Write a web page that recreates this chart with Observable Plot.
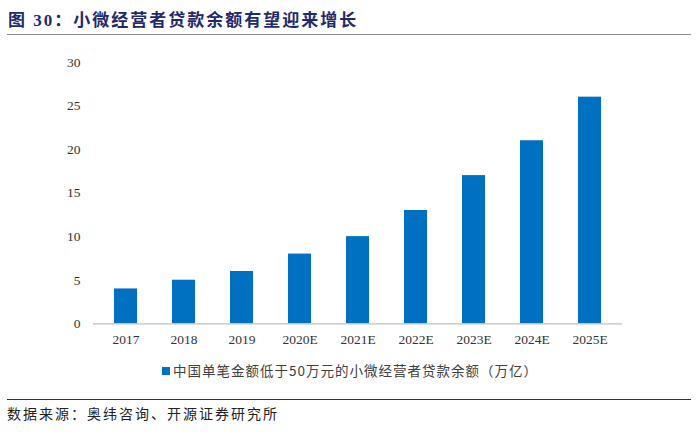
<!DOCTYPE html>
<html>
<head>
<meta charset="utf-8">
<script src="https://cdn.jsdelivr.net/npm/d3@7"></script>
<script src="https://cdn.jsdelivr.net/npm/@observablehq/plot@0.6"></script>
<style>
  html, body { margin: 0; padding: 0; background: #fff; }
  body { width: 700px; height: 440px; position: relative; overflow: hidden; }
  #title { position: absolute; left: 8px; top: 6px; font-family: "Liberation Serif", "Noto Sans CJK SC", serif; font-weight: bold; font-size: 17px; color: #1f2a6b; letter-spacing: 2px; white-space: nowrap; }
  #tline { position: absolute; left: 7px; top: 34px; width: 684px; height: 0; border-top: 1.5px solid #8c8c8c; }
  #chart { position: absolute; left: 0; top: 40px; }
  #legend { position: absolute; left: 0; width: 700px; top: 360px; height: 20px; text-align: center; font-family: "Noto Sans CJK SC", sans-serif; font-size: 13.5px; color: #404040; white-space: nowrap; letter-spacing: 1px; }
  #legend .sw { display: inline-block; width: 8px; height: 8px; background: #0070C0; margin-right: 3px; vertical-align: 1px; }
  #bline { position: absolute; left: 7px; top: 399px; width: 684px; height: 0; border-top: 1.2px solid #333; }
  #source { position: absolute; left: 7px; top: 403px; font-family: "Noto Sans CJK SC", sans-serif; font-size: 14px; color: #222; letter-spacing: 2px; white-space: nowrap; }
</style>
</head>
<body>
<div id="title">图 30：小微经营者贷款余额有望迎来增长</div>
<div id="tline"></div>
<div id="chart"></div>
<div id="legend"></div>
<div id="bline"></div>
<div id="source"></div>
<script>
const years = ["2017", "2018", "2019", "2020E", "2021E", "2022E", "2023E", "2024E", "2025E"];
const balances = [4, 5, 6, 8, 10, 13, 17, 21, 26];
const yTicks = [0, 5, 10, 15, 20, 25, 30];
const seriesName = "中国单笔金额低于50万元的小微经营者贷款余额（万亿）";
const sourceText = "数据来源：奥纬咨询、开源证券研究所";

const data = years.map((y, i) => ({year: y, value: balances[i]}));

const chart = Plot.plot({
  width: 700,
  height: 320,
  marginLeft: 93,
  marginRight: 78,
  marginTop: 21.8,
  marginBottom: 36.7,
  style: {fontFamily: "'Liberation Serif', serif", fontSize: "13.5px", color: "#333", background: "transparent"},
  x: {domain: years, paddingInner: 0.61, paddingOuter: 0.305, label: null, tickSize: 0, tickPadding: 11},
  y: {domain: [0, 30], ticks: yTicks, label: null, tickSize: 0, tickPadding: 13},
  marks: [
    Plot.barY(data, {x: "year", y: "value", fill: "#0070C0"}),
    Plot.ruleY([0], {stroke: "#bfbfbf", strokeWidth: 1.2})
  ]
});
document.getElementById("chart").appendChild(chart);

const lg = document.getElementById("legend");
lg.innerHTML = '<span class="sw"></span>' + seriesName;
document.getElementById("source").textContent = sourceText;
</script>
</body>
</html>
